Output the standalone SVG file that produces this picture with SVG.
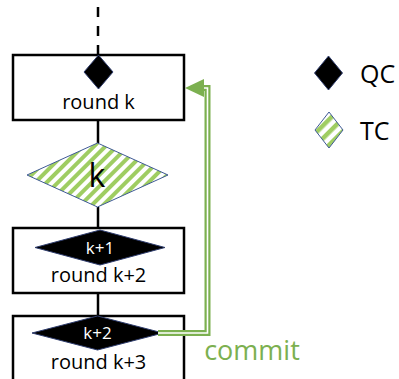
<svg xmlns="http://www.w3.org/2000/svg" width="399" height="379" viewBox="0 0 399 379">
<style>
.box{fill:#fff;stroke:#000;stroke-width:2.5}
.ln{stroke:#000;stroke-width:2.5;fill:none}
.qc{fill:#000;stroke:#2f3d6e;stroke-width:1}
.tc{stroke:#3f5a96;stroke-width:1}
.t{font-family:"Open Sans","Liberation Sans",sans-serif;text-anchor:middle;fill:#000}
.w{fill:#fff}
.g{fill:#7cb050}
</style>
<defs>
<pattern id="stripes" patternUnits="userSpaceOnUse" width="8" height="8" patternTransform="rotate(45)">
<rect width="8" height="8" fill="#fff"/>
<rect width="4" height="8" fill="#9fcd62"/>
</pattern>
<pattern id="stripesL" patternUnits="userSpaceOnUse" width="9" height="9" patternTransform="rotate(45)">
<rect width="9" height="9" fill="#fff"/>
<rect width="4.5" height="9" fill="#9fcd62"/>
</pattern>
</defs>
<g id="connectors">
<line class="ln" x1="98" y1="7" x2="98" y2="55" stroke-dasharray="10,9"/>
<line class="ln" x1="98" y1="120" x2="98" y2="143"/>
<line class="ln" x1="98" y1="207" x2="98" y2="228"/>
<line class="ln" x1="98" y1="293" x2="98" y2="316"/>
</g>
<g id="round-k">
<rect class="box" x="13" y="55" width="171" height="65"/>
<polygon class="qc" points="98.5,55 113,72 98.5,89 84,72"/>
<text class="t" x="98.5" y="109" font-size="20">round k</text>
</g>
<g id="tc-k">
<polygon class="tc" fill="url(#stripes)" points="97.5,143 168,175 97.5,207 27,175"/>
<text class="t" x="97" y="187" font-size="32">k</text>
</g>
<g id="round-k2">
<rect class="box" x="13" y="228" width="171" height="65"/>
<polygon class="qc" points="100,230 165,247.5 100,265 35,247.5"/>
<text class="t w" x="100" y="254" font-size="17">k+1</text>
<text class="t" x="98.5" y="282" font-size="20">round k+2</text>
</g>
<g id="round-k3">
<rect class="box" x="13" y="316" width="171" height="70"/>
<polygon class="qc" points="97.5,316 163,333 97.5,350 32,333"/>
<text class="t w" x="97.5" y="338.5" font-size="17">k+2</text>
<text class="t" x="98.5" y="369" font-size="20">round k+3</text>
</g>
<g id="commit">
<path d="M158,333 H207.5 V88 H203" fill="none" stroke="#7cb050" stroke-width="6"/>
<path d="M158,333 H207.5 V88 H203" fill="none" stroke="#fff" stroke-width="1.6"/>
<polygon points="185,88 204,79 204,97" fill="#7cb050"/>
<text class="t g" x="252" y="360" font-size="27">commit</text>
</g>
<g id="legend-qc">
<polygon class="qc" points="328.5,56 342.5,73 328.5,90 314.5,73"/>
<text class="t" x="360" y="83" font-size="25" style="text-anchor:start">QC</text>
</g>
<g id="legend-tc">
<polygon class="tc" fill="url(#stripesL)" points="329,112 343,130 329,148 315,130"/>
<text class="t" x="360" y="140" font-size="25" style="text-anchor:start">TC</text>
</g>
</svg>
